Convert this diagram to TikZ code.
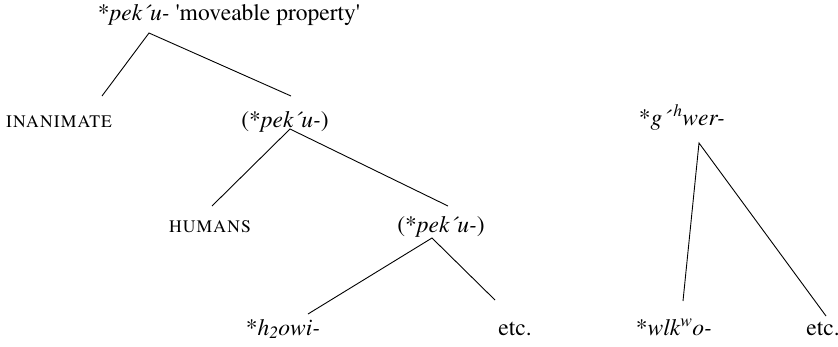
\documentclass[tikz,border=0pt]{standalone}
\usepackage[T1]{fontenc}
\usepackage{mathptmx}
\newcommand{\acu}{\'{}}
\tikzset{
    word/.style={anchor=base, inner sep=0pt, font=\fontsize{23.5}{28}\selectfont},
    sem/.style={anchor=base, inner sep=0pt, font=\fontsize{22}{26}\selectfont\scshape},
    branch/.style={line width=0.9pt}
}
\begin{document}
\begin{tikzpicture}[x=1pt, y=-1pt]
        \useasboundingbox (0,0) rectangle (838,346);
        % left tree
        \node [word] (root) at (229,20) {*\textit{pek\acu u-} \textquotesingle moveable property\textquotesingle};
        \node [sem] (inan) at (59,127) {inanimate};
        \node [word] (pekA) at (285,127) {(*\textit{pek\acu u-})};
        \node [sem] (hum) at (210,232) {humans};
        \node [word] (pekB) at (441,232) {(*\textit{pek\acu u-})};
        \node [word] (owi) at (283,335) {*\textit{h\textsubscript{2}owi-}};
        \node [word] (etcA) at (515,335) {etc.};
        % right tree
        \node [word] (gwer) at (682,125) {*\textit{g\acu\kern3pt\textsuperscript{h}wer-}};
        \node [word] (wlk) at (674,335) {*\textit{wlk\textsuperscript{w}o-}};
        \node [word] (etcB) at (823,335) {etc.};
        % branch points
        \coordinate (root-b) at (149,33);
        \coordinate (inan-t) at (102,96);
        \coordinate (pekA-t) at (291,96);
        \coordinate (pekA-b) at (290,129);
        \coordinate (hum-t) at (212,206);
        \coordinate (pekB-t) at (448,206);
        \coordinate (pekB-b) at (432,238);
        \coordinate (owi-t) at (308,314);
        \coordinate (etcA-t) at (495,300);
        \coordinate (gwer-b) at (699,143);
        \coordinate (wlk-t) at (683,301);
        \coordinate (etcB-t) at (826,316);
        \draw [branch] (inan-t) -- (root-b) -- (pekA-t);
        \draw [branch] (hum-t) -- (pekA-b) -- (pekB-t);
        \draw [branch] (owi-t) -- (pekB-b) -- (etcA-t);
        \draw [branch] (wlk-t) -- (gwer-b) -- (etcB-t);
    \end{tikzpicture}
\end{document}
